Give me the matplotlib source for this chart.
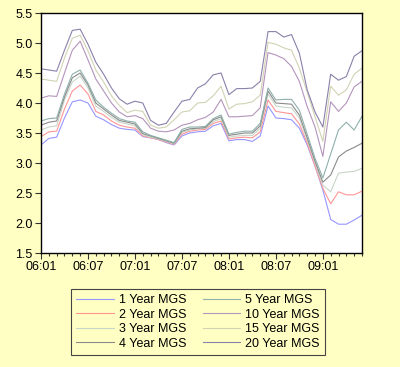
import matplotlib
matplotlib.use("Agg")
import matplotlib.pyplot as plt
from matplotlib.ticker import MultipleLocator, FixedLocator

plt.rcParams['font.family'] = ['Liberation Sans', 'DejaVu Sans']

# Monthly observations 2006:01 .. 2009:06
periods = [f"{y:02d}:{m:02d}" for y in (6, 7, 8, 9) for m in range(1, 13)][:42]
tick_labels = ["06:01", "06:07", "07:01", "07:07", "08:01", "08:07", "09:01"]

y1 = [3.30, 3.41, 3.43, 3.75, 4.02, 4.05, 4.00, 3.78, 3.72, 3.64, 3.58, 3.56,
      3.55, 3.44, 3.42, 3.39, 3.34, 3.30, 3.45, 3.50, 3.52, 3.53, 3.62, 3.66,
      3.37, 3.39, 3.39, 3.36, 3.45, 3.95, 3.75, 3.74, 3.72, 3.58, 3.30, 2.95,
      2.55, 2.06, 1.98, 1.98, 2.05, 2.13]
y2 = [3.44, 3.52, 3.53, 3.90, 4.20, 4.30, 4.15, 3.86, 3.80, 3.70, 3.63, 3.60,
      3.58, 3.45, 3.42, 3.39, 3.35, 3.31, 3.48, 3.53, 3.55, 3.56, 3.66, 3.70,
      3.40, 3.42, 3.43, 3.42, 3.52, 4.05, 3.86, 3.84, 3.82, 3.65, 3.33, 2.95,
      2.58, 2.32, 2.52, 2.47, 2.47, 2.53]
y3 = [3.55, 3.60, 3.62, 4.05, 4.35, 4.45, 4.25, 3.95, 3.86, 3.76, 3.68, 3.65,
      3.62, 3.47, 3.43, 3.40, 3.36, 3.32, 3.51, 3.55, 3.57, 3.58, 3.69, 3.74,
      3.43, 3.45, 3.46, 3.46, 3.58, 4.15, 3.95, 3.93, 3.92, 3.75, 3.38, 3.00,
      2.63, 2.52, 2.83, 2.85, 2.86, 2.91]
y4 = [3.63, 3.68, 3.70, 4.10, 4.42, 4.50, 4.30, 4.00, 3.90, 3.80, 3.71, 3.68,
      3.65, 3.49, 3.45, 3.41, 3.37, 3.33, 3.53, 3.57, 3.58, 3.59, 3.72, 3.77,
      3.46, 3.48, 3.50, 3.50, 3.62, 4.20, 4.00, 3.99, 3.98, 3.80, 3.42, 3.03,
      2.68, 2.80, 3.10, 3.20, 3.26, 3.33]
y5 = [3.70, 3.74, 3.75, 4.15, 4.48, 4.55, 4.33, 4.05, 3.93, 3.83, 3.74, 3.70,
      3.68, 3.52, 3.46, 3.42, 3.38, 3.34, 3.56, 3.60, 3.60, 3.61, 3.74, 3.80,
      3.48, 3.51, 3.53, 3.53, 3.66, 4.25, 4.05, 4.06, 4.06, 3.88, 3.48, 3.08,
      2.75, 3.15, 3.55, 3.68, 3.55, 3.78]
y10 = [4.08, 4.12, 4.11, 4.50, 4.88, 5.03, 4.72, 4.40, 4.20, 4.00, 3.85, 3.77,
       3.79, 3.74, 3.58, 3.53, 3.52, 3.55, 3.63, 3.66, 3.72, 3.76, 3.85, 4.06,
       3.77, 3.77, 3.78, 3.79, 3.92, 4.84, 4.80, 4.74, 4.61, 4.36, 3.94, 3.60,
       3.11, 4.02, 3.86, 4.00, 4.27, 4.36]
y15 = [4.40, 4.38, 4.36, 4.75, 5.08, 5.13, 4.87, 4.55, 4.35, 4.12, 3.96, 3.84,
       3.88, 3.86, 3.63, 3.58, 3.60, 3.72, 3.85, 3.87, 4.00, 4.01, 4.12, 4.28,
       3.90, 3.98, 3.99, 4.02, 4.13, 5.01, 4.98, 4.92, 4.88, 4.58, 4.18, 3.77,
       3.36, 4.28, 4.13, 4.22, 4.48, 4.58]
y20 = [4.57, 4.55, 4.53, 4.88, 5.21, 5.23, 4.98, 4.68, 4.48, 4.25, 4.07, 3.98,
       4.03, 4.00, 3.71, 3.63, 3.66, 3.85, 4.03, 4.06, 4.25, 4.32, 4.47, 4.50,
       4.14, 4.24, 4.24, 4.25, 4.36, 5.19, 5.19, 5.10, 5.14, 4.83, 4.22, 3.85,
       3.60, 4.48, 4.38, 4.44, 4.78, 4.87]

names = ["1 Year MGS", "2 Year MGS", "3 Year MGS", "4 Year MGS",
         "5 Year MGS", "10 Year MGS", "15 Year MGS", "20 Year MGS"]
series = [y1, y2, y3, y4, y5, y10, y15, y20]
colors = ["#9696ff", "#ff9696", "#c8d6c8", "#8a8a8a",
          "#8fb0ac", "#b494bc", "#d2d2b4", "#8a80aa"]

bg = "#ffffc4"
fig = plt.figure(figsize=(4.0, 3.67), dpi=100, facecolor=bg)
ax = fig.add_axes([41 / 400, 1 - 253 / 367, 321 / 400, 240 / 367])
ax.set_facecolor("white")

x = list(range(len(periods)))
handles = []
for s, c, n in zip(series, colors, names):
    h, = ax.plot(x, s, color=c, lw=0.8, label=n)
    handles.append(h)

ax.set_xlim(0, len(periods) - 1)
ax.set_ylim(1.5, 5.5)
ax.yaxis.set_major_locator(MultipleLocator(0.5))
ax.yaxis.set_major_formatter(matplotlib.ticker.FormatStrFormatter("%.1f"))
major_pos = [periods.index(t) for t in tick_labels]
ax.xaxis.set_major_locator(FixedLocator(major_pos))
ax.set_xticklabels(tick_labels)
ax.xaxis.set_minor_locator(MultipleLocator(1))
ax.tick_params(axis="both", which="major", labelsize=9, direction="out",
               length=4, width=0.8, color="#333333", pad=2)
ax.tick_params(axis="x", which="minor", direction="out", length=2.5,
               width=0.8, color="#333333")
for sp in ax.spines.values():
    sp.set_linewidth(1.0)
    sp.set_color("black")

leg = fig.legend(handles=handles, labels=names, ncol=2, loc="upper center",
                 bbox_to_anchor=(198 / 400, 1 - 283 / 367), fontsize=9,
                 frameon=True, fancybox=False, edgecolor="#444444",
                 facecolor=bg, framealpha=1, handlelength=3.0,
                 handletextpad=0.4, columnspacing=1.3, labelspacing=0.2,
                 borderpad=0.4)
leg.get_frame().set_linewidth(0.8)

fig.savefig("out.png", dpi=100, facecolor=bg)
